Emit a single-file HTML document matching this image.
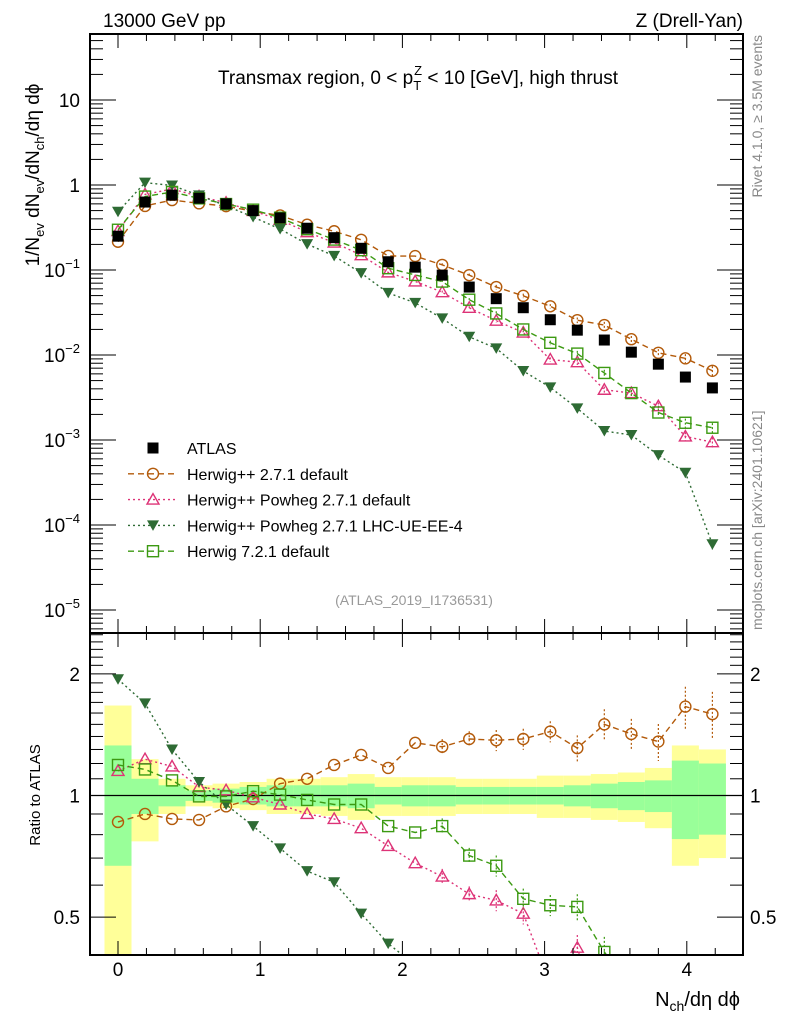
<!DOCTYPE html>
<html><head><meta charset="utf-8">
<style>
html,body{margin:0;padding:0;background:#fff;overflow:hidden;width:786px;height:1024px;}
svg{display:block;font-family:"Liberation Sans","DejaVu Sans",sans-serif;}
</style></head>
<body>
<svg id="chart" width="786" height="1024" viewBox="0 0 786 1024" xmlns="http://www.w3.org/2000/svg">
<g id="bands"></g>
<g id="marks"></g>
<g id="axes"></g>
<text x="103" y="27" font-size="19">13000 GeV pp</text>
<text x="743" y="27" font-size="19" text-anchor="end">Z (Drell-Yan)</text>
<text x="418" y="84" font-size="19" text-anchor="middle">Transmax region, 0 &lt; p<tspan font-size="13" dy="6">T</tspan><tspan font-size="13" dx="-7" dy="-15">Z</tspan><tspan dy="9"> &lt; 10 [GeV], high thrust</tspan></text>
<text x="414" y="605" font-size="14" fill="#999" text-anchor="middle">(ATLAS_2019_I1736531)</text>
<text transform="translate(39,175) rotate(-90)" font-size="19" text-anchor="middle">1/N<tspan font-size="13" dy="5">ev</tspan><tspan dy="-5"> dN</tspan><tspan font-size="13" dy="5">ev</tspan><tspan dy="-5">/dN</tspan><tspan font-size="13" dy="5">ch</tspan><tspan dy="-5">/dη dϕ</tspan></text>
<text transform="translate(40,795) rotate(-90)" font-size="15" text-anchor="middle">Ratio to ATLAS</text>
<text x="740" y="1006" font-size="20" text-anchor="end">N<tspan font-size="14" dy="5">ch</tspan><tspan dy="-5">/dη dϕ</tspan></text>
<text transform="translate(762,35) rotate(-90)" font-size="14" fill="#888" text-anchor="end">Rivet 4.1.0, ≥ 3.5M events</text>
<text transform="translate(762,630) rotate(-90)" font-size="14" fill="#888" text-anchor="start">mcplots.cern.ch [arXiv:2401.10621]</text>
<g id="legend"></g>
</svg>
<script>
const xVals=[0,0.19,0.38,0.57,0.76,0.95,1.14,1.33,1.52,1.71,1.9,2.09,2.28,2.47,2.66,2.85,3.04,3.23,3.42,3.61,3.8,3.99,4.18];
const atlas=[0.25,0.63,0.76,0.7,0.6,0.5,0.41,0.31,0.24,0.18,0.125,0.108,0.087,0.063,0.046,0.036,0.026,0.0196,0.015,0.0108,0.0078,0.0055,0.0041];
const rHerwigpp=[0.86,0.9,0.875,0.87,0.94,0.98,1.07,1.1,1.19,1.26,1.17,1.35,1.32,1.38,1.37,1.38,1.44,1.31,1.5,1.42,1.36,1.66,1.59];
const rPowheg=[1.15,1.23,1.18,1.05,1.03,0.99,0.95,0.9,0.875,0.83,0.75,0.68,0.63,0.57,0.55,0.51,0.34,0.42,0.26,0.33,0.32,0.2,0.23];
const rPowhegUE=[1.94,1.69,1.3,1.08,0.95,0.84,0.74,0.65,0.61,0.51,0.43,0.38,0.31,0.26,0.26,0.18,0.16,0.12,0.085,0.106,0.085,0.075,0.0145];
const rHerwig7=[1.19,1.16,1.09,0.995,0.995,1.025,1.005,0.975,0.95,0.95,0.84,0.81,0.84,0.71,0.67,0.555,0.535,0.53,0.41,0.33,0.27,0.29,0.34];
const bandTotal=[0.67,0.23,0.1,0.06,0.07,0.08,0.1,0.1,0.11,0.13,0.11,0.11,0.11,0.1,0.1,0.1,0.12,0.12,0.13,0.14,0.17,0.33,0.3];
const bandStat=[0.33,0.1,0.06,0.03,0.04,0.05,0.06,0.06,0.06,0.07,0.05,0.06,0.06,0.05,0.05,0.05,0.05,0.06,0.07,0.08,0.09,0.22,0.2];
const relErr=[0.01,0.01,0.01,0.01,0.01,0.01,0.01,0.01,0.01,0.01,0.01,0.01,0.015,0.015,0.02,0.02,0.02,0.025,0.03,0.03,0.035,0.04,0.045];
const mainTicks=["10","1","10-1","10-2","10-3","10-4","10-5"];
const ratioTicks=[2,1,0.5];

const NS="http://www.w3.org/2000/svg";
const L=90,R=743,T=34,MB=633,RB=955;
const X=v=>118+v*142.2;
const Ym=v=>185-Math.log10(v)*85;
const Yr=v=>795.5-Math.log10(v)*404;
function mk(tag,attrs,parent){const e=document.createElementNS(NS,tag);for(const k in attrs)e.setAttribute(k,attrs[k]);parent.appendChild(e);return e;}
const bands=document.getElementById('bands'),marks=document.getElementById('marks'),axes=document.getElementById('axes'),legend=document.getElementById('legend');

const defs=mk('defs',{},document.getElementById('chart'));
const c1=mk('clipPath',{id:'cm'},defs);mk('rect',{x:L,y:T,width:R-L,height:MB-T},c1);
const c2=mk('clipPath',{id:'cr'},defs);mk('rect',{x:L,y:MB,width:R-L,height:RB-MB},c2);
bands.setAttribute('clip-path','url(#cr)');

const hw=0.095;
xVals.forEach((x,i)=>{
  const lo=Math.max(1-bandTotal[i],0.2);
  const r=mk('rect',{x:X(x-hw),y:Yr(1+bandTotal[i]),width:X(x+hw)-X(x-hw),height:Yr(lo)-Yr(1+bandTotal[i]),fill:'#ffff99'},bands);
  
  
});
xVals.forEach((x,i)=>{
  const r=mk('rect',{x:X(x-hw),y:Yr(1+bandStat[i]),width:X(x+hw)-X(x-hw),height:Yr(1-bandStat[i])-Yr(1+bandStat[i]),fill:'#99ff99'},bands);
  
  
});
const one=mk('line',{x1:L,x2:R,y1:Yr(1),y2:Yr(1),stroke:'#000','stroke-width':1.3},bands);



function marker(g,type,cx,cy,col){
  let e;
  if(type==='circle')e=mk('circle',{cx:cx,cy:cy,r:5.5,fill:'none',stroke:col,'stroke-width':1.4},g);
  else if(type==='tri')e=mk('polygon',{points:`${cx},${cy-6} ${cx-6},${cy+4.5} ${cx+6},${cy+4.5}`,fill:'none',stroke:col,'stroke-width':1.4},g);
  else if(type==='dtri')e=mk('polygon',{points:`${cx-6},${cy-5} ${cx+6},${cy-5} ${cx},${cy+5.5}`,fill:col},g);
  else if(type==='sq')e=mk('rect',{x:cx-5.5,y:cy-5.5,width:11,height:11,fill:'none',stroke:col,'stroke-width':1.4},g);
  else e=mk('rect',{x:cx-5.5,y:cy-5.5,width:11,height:11,fill:col},g);
  return e;
}
const series=[
 {name:'herwigpp-271-default',r:rHerwigpp,col:'#b35a0a',type:'circle',dash:'6,4'},
 {name:'herwigpp-powheg-271-default',r:rPowheg,col:'#dd3377',type:'tri',dash:'2,3'},
 {name:'herwigpp-powheg-271-lhc-ue-ee-4',r:rPowhegUE,col:'#2e6b34',type:'dtri',dash:'2,3'},
 {name:'herwig-721-default',r:rHerwig7,col:'#3c9a12',type:'sq',dash:'6,4'}
];
const gm=mk('g',{'clip-path':'url(#cm)'},marks);


const gr=mk('g',{'clip-path':'url(#cr)'},marks);


series.forEach(s=>{
  const vals=s.r.map((r,i)=>r*atlas[i]);
  const pm=mk('polyline',{points:vals.map((v,i)=>X(xVals[i])+','+Ym(Math.max(v,1e-7))).join(' '),fill:'none',stroke:s.col,'stroke-width':1.4,'stroke-dasharray':s.dash},gm);
  
  
  const pr=mk('polyline',{points:s.r.map((v,i)=>X(xVals[i])+','+Yr(Math.max(v,1e-3))).join(' '),fill:'none',stroke:s.col,'stroke-width':1.4,'stroke-dasharray':s.dash},gr);
  
  
  vals.forEach((v,i)=>{
    const cx=X(xVals[i]);
    const e=relErr[i]*3;
    if(e>0.04){
      mk('line',{x1:cx,x2:cx,y1:Ym(v*(1+e)),y2:Ym(v*(1-e)),stroke:s.col,'stroke-width':1.2,'stroke-dasharray':'2,2'},gm);
      mk('line',{x1:cx,x2:cx,y1:Yr(s.r[i]*(1+e)),y2:Yr(s.r[i]*(1-e)),stroke:s.col,'stroke-width':1.2,'stroke-dasharray':'2,2'},gr);
    }
    const m=marker(gm,s.type,cx,Ym(v),s.col);
    
    
    const m2=marker(gr,s.type,cx,Yr(s.r[i]),s.col);
    
    
  });
});
atlas.forEach((v,i)=>{
  const m=marker(gm,'fsq',X(xVals[i]),Ym(v),'#000');
  
  
});

[[T,MB],[MB,RB]].forEach((p,k)=>{
  const f=mk('rect',{x:L,y:p[0],width:R-L,height:p[1]-p[0],fill:'none',stroke:'#000','stroke-width':2},axes);
  
  
});
for(let v=-0.2;v<=4.4;v+=0.2){
  const vv=Math.round(v*10)/10; const x=X(vv); if(x<L||x>R)continue;
  const maj=Math.abs(vv-Math.round(vv))<1e-6; const len=maj?14:7;
  [[T,1],[MB,-1],[MB,1],[RB,-1]].forEach(p=>mk('line',{x1:x,x2:x,y1:p[0],y2:p[0]+p[1]*len,stroke:'#000','stroke-width':1},axes));
}
for(let n=0;n<=4;n++){
  const t=mk('text',{x:X(n),y:976,'font-size':19,'text-anchor':'middle'},axes);t.textContent=String(n);
  
  
}
for(let e=-6;e<=2;e++){for(let m=1;m<10;m++){
  const v=m*Math.pow(10,e);const y=Ym(v);if(y<T||y>MB)continue;const len=m===1?26:13;
  mk('line',{x1:L,x2:L+len,y1:y,y2:y,stroke:'#000','stroke-width':1},axes);
  mk('line',{x1:R,x2:R-len,y1:y,y2:y,stroke:'#000','stroke-width':1},axes);
}}
mainTicks.forEach((lab,i)=>{
  const y=Ym(Math.pow(10,1-i))+7;
  const t=mk('text',{x:80,y:y,'font-size':19,'text-anchor':'end'},axes);
  
  
  if(lab.indexOf('-')>0){const p=lab.split('-');t.textContent=p[0];const s=mk('tspan',{'font-size':13,dy:-9},t);s.textContent='−'+p[1];}
  else t.textContent=lab;
});
for(let v=0.4;v<=2.6;v+=0.1){
  const vv=Math.round(v*10)/10;const y=Yr(vv);if(y<MB||y>RB)continue;
  const maj=ratioTicks.indexOf(vv)>=0;const len=maj?26:13;
  mk('line',{x1:L,x2:L+len,y1:y,y2:y,stroke:'#000','stroke-width':1},axes);
  mk('line',{x1:R,x2:R-len,y1:y,y2:y,stroke:'#000','stroke-width':1},axes);
}
ratioTicks.forEach((v,i)=>{
  const y=Yr(v)+7;
  const a=mk('text',{x:80,y:y,'font-size':19,'text-anchor':'end'},axes);a.textContent=String(v);
  
  
  const b=mk('text',{x:750,y:y,'font-size':19,'text-anchor':'start'},axes);b.textContent=String(v);
  
  
});
const legItems=[
 {label:'ATLAS',type:'fsq',col:'#000'},
 {label:'Herwig++ 2.7.1 default',type:'circle',col:'#b35a0a',dash:'6,4'},
 {label:'Herwig++ Powheg 2.7.1 default',type:'tri',col:'#dd3377',dash:'2,3'},
 {label:'Herwig++ Powheg 2.7.1 LHC-UE-EE-4',type:'dtri',col:'#2e6b34',dash:'2,3'},
 {label:'Herwig 7.2.1 default',type:'sq',col:'#3c9a12',dash:'6,4'}
];
legItems.forEach((it,i)=>{
  const y=448+i*25.8;
  const g=mk('g',{},legend);
  
  
  if(it.dash)mk('line',{x1:128,x2:176,y1:y,y2:y,stroke:it.col,'stroke-width':1.4,'stroke-dasharray':it.dash},g);
  marker(g,it.type,153,y,it.col);
  const t=mk('text',{x:187,y:y+6,'font-size':16},g);t.textContent=it.label;
});
</script>
</body></html>
